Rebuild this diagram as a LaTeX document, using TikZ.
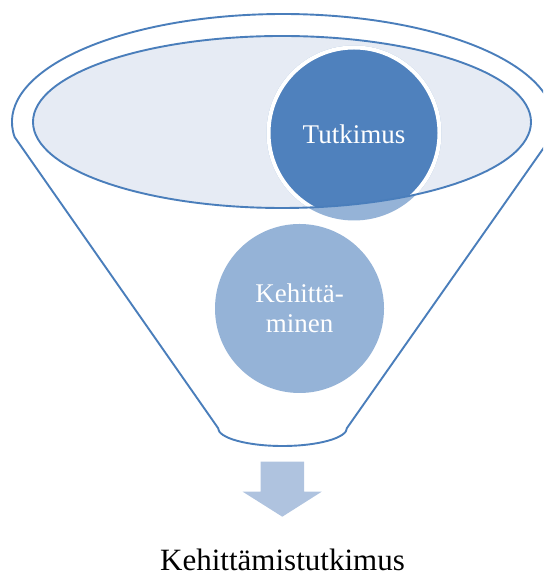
\documentclass[tikz,border=0pt]{standalone}
\usepackage{fontspec}
\setmainfont{Liberation Serif}
\definecolor{rim}{HTML}{4A7EBB}
\definecolor{bowl}{HTML}{E6EBF4}
\definecolor{deep}{HTML}{4F81BD}
\definecolor{pale}{HTML}{95B3D7}
\definecolor{chute}{HTML}{AFC3DF}
\begin{document}
\begin{tikzpicture}[x=1pt,y=1pt,
  rimline/.style={draw=rim,line width=1.9pt},
  ball/.style={circle,inner sep=0pt,text=white,align=center,
    font=\fontsize{27}{29.5}\selectfont}]
\clip (0,0) rectangle (543,577);
% funnel body: rim arc, two slanted sides and rounded spout
\path[rimline,fill=white]
  (14.6,440) arc[start angle=187.98,end angle=-7.98,x radius=271,y radius=108]
  -- (347,149) arc[start angle=0,end angle=-180,x radius=64.5,y radius=18]
  -- cycle;
% inner bowl surface
\fill[bowl] (282,455) ellipse[x radius=249,y radius=86];
% lower circle
\node[ball,fill=pale,minimum size=169pt] (dev) at (299.5,268.5) {Kehittä-\\minen};
% upper circle: pale where it hangs below the bowl, dark inside it
\node[circle,fill=pale,minimum size=175pt,inner sep=0pt] (res) at (354,444) {};
\begin{scope}
  \clip (282,455) ellipse[x radius=249,y radius=86];
  \fill[deep] (res.center) circle[radius=85.5];
  \draw[white,line width=4pt] (res.center) circle[radius=85.5];
\end{scope}
\node[ball,anchor=base] (reslabel) at (354,433.7) {Tutkimus};
% bowl outline on top
\draw[rimline] (282,455) ellipse[x radius=249,y radius=86];
% block arrow below the spout
\fill[chute] (260.7,115.3) -- (304,115.3) -- (304,85.3) -- (321.7,85.3)
  -- (282.3,60.3) -- (242.7,85.3) -- (260.7,85.3) -- cycle;
% outcome
\node[anchor=base,inner sep=0pt,font=\fontsize{31}{36}\selectfont] (result)
  at (282.5,6) {Kehittämistutkimus};
\end{tikzpicture}
\end{document}
